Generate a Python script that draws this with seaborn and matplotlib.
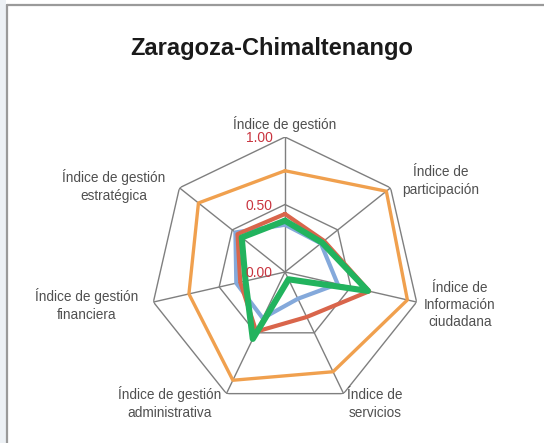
import numpy as np
import pandas as pd
import seaborn as sns
import matplotlib.pyplot as plt
from matplotlib.lines import Line2D
from matplotlib.patches import Rectangle

# ejes del radar (sentido horario desde arriba)
categorias = ["Índice de gestión", "Índice de\nparticipación",
              "Índice de\nInformación\nciudadana", "Índice de\nservicios",
              "Índice de gestión\nadministrativa", "Índice de gestión\nfinanciera",
              "Índice de gestión\nestratégica"]
serie_naranja = [0.75, 0.96, 0.93, 0.82, 0.89, 0.73, 0.82]
serie_azul = [0.35, 0.34, 0.40, 0.22, 0.38, 0.37, 0.47]
serie_roja = [0.43, 0.37, 0.64, 0.37, 0.49, 0.34, 0.45]
serie_verde = [0.38, 0.35, 0.63, 0.06, 0.55, 0.30, 0.41]
ticks_r = [0.0, 0.5, 1.0]
ticks_txt = ["0.00", "0.50", "1.00"]

series = {"naranja": serie_naranja, "azul": serie_azul,
          "roja": serie_roja, "verde": serie_verde}
colores = {"naranja": "#F0A04E", "azul": "#84A9DB",
           "roja": "#D9654B", "verde": "#22B35E"}
grosor = {"naranja": 2.4, "azul": 3.0, "roja": 3.0, "verde": 4.4}

n = len(categorias)
ang = np.linspace(0, 2 * np.pi, n, endpoint=False)

filas = []
for nombre, vals in series.items():
    for i, v in enumerate(list(vals) + [vals[0]]):
        filas.append({"serie": nombre, "orden": i, "theta": ang[i % n] if i < n else 2 * np.pi, "r": v})
df = pd.DataFrame(filas)

sns.set_style("white")
plt.rcParams["font.family"] = ["Liberation Sans", "DejaVu Sans"]

fig = plt.figure(figsize=(5.44, 4.43), dpi=100)
fig.patch.set_facecolor("white")

# marco del grafico
fig.add_artist(Rectangle((0, 0), 6 / 544, 1, transform=fig.transFigure,
                         facecolor="#EDF1F5", edgecolor="none"))
fig.add_artist(Line2D([6.5 / 544, 6.5 / 544], [0, 1 - 4.5 / 443], transform=fig.transFigure,
                      color="#9A9A9A", lw=1.6))
fig.add_artist(Line2D([6.5 / 544, 1], [1 - 4.5 / 443, 1 - 4.5 / 443], transform=fig.transFigure,
                      color="#9A9A9A", lw=1.6))

cx, cy, R = 285, 272, 135
ax = fig.add_axes([(cx - R) / 544, (443 - cy - R) / 443, 2 * R / 544, 2 * R / 443],
                  projection="polar")
ax.set_theta_offset(np.pi / 2)
ax.set_theta_direction(-1)
ax.set_ylim(0, 1)
ax.grid(False)
ax.spines["polar"].set_visible(False)
ax.patch.set_alpha(0)

# rejilla heptagonal
ang_c = np.append(ang, 2 * np.pi)
for r in [0.5, 1.0]:
    ax.plot(ang_c, [r] * (n + 1), color="#7F7F7F", lw=1.0, zorder=1)
for a in ang:
    ax.plot([a, a], [0, 1], color="#7F7F7F", lw=1.0, zorder=1)

for nombre in ["naranja", "azul", "roja", "verde"]:
    sub = df[df["serie"] == nombre]
    sns.lineplot(data=sub, x="theta", y="r", sort=False, ax=ax,
                 color=colores[nombre], lw=grosor[nombre], legend=False,
                 estimator=None, zorder=3)
ax.set_xlabel("")
ax.set_ylabel("")
ax.set_xticks([])
ax.set_yticks([])

# etiquetas de la escala
for r, t in zip(ticks_r, ticks_txt):
    fig.text((cx - 12) / 544, 1 - (cy - r * R + 1) / 443, t, ha="right", va="center",
             fontsize=10, color="#C9343F")

# etiquetas de los ejes
pos_lab = [(285, 124), (441, 181), (460, 305), (375, 404),
           (170, 403), (87, 305), (114, 186)]
for txt, (x, y) in zip(categorias, pos_lab):
    fig.text(x / 544, 1 - y / 443, txt, ha="center", va="center",
             fontsize=9.8, color="#505050", linespacing=1.3)

fig.text(272 / 544, 1 - 48 / 443, "Zaragoza-Chimaltenango", ha="center", va="center",
         fontsize=17, fontweight="bold", color="#1A1A1A")

fig.savefig("out.png", dpi=100)
